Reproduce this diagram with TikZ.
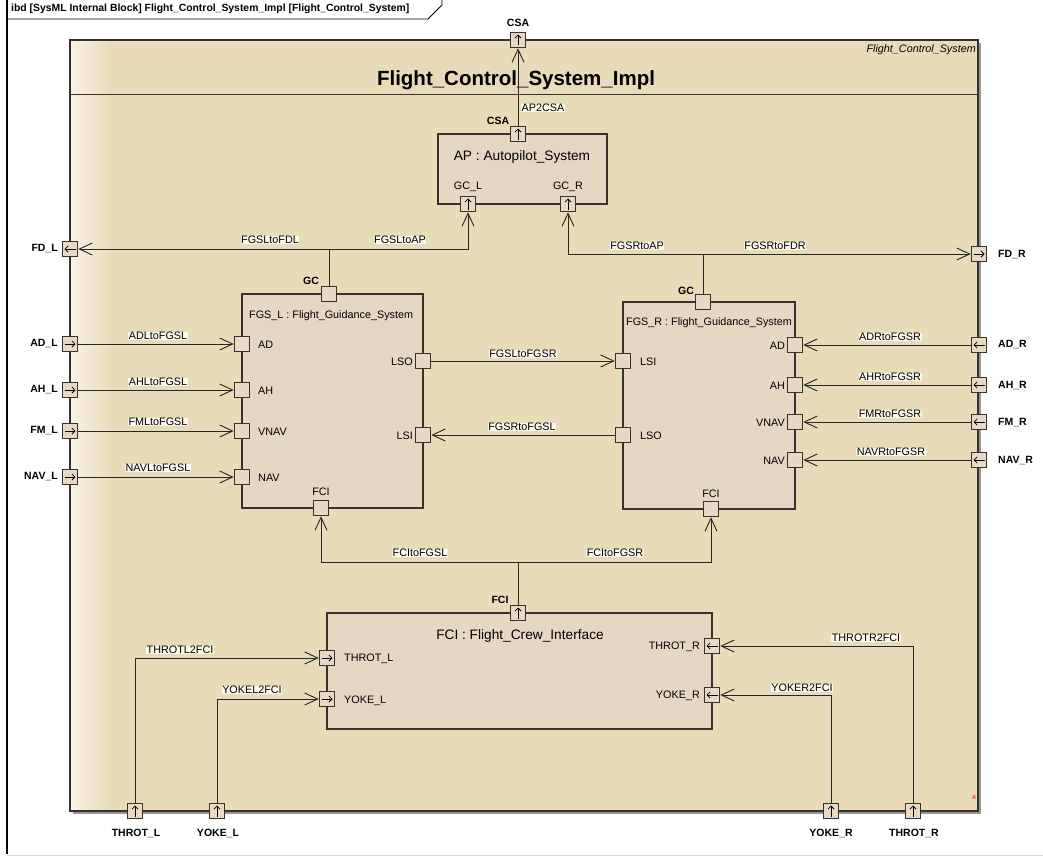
\documentclass[tikz,border=0pt]{standalone}
\usepackage{fontspec}
\setmainfont{Liberation Sans}
\usetikzlibrary{arrows.meta}
\definecolor{blk}{RGB}{233,218,185}
\definecolor{blkL}{RGB}{249,243,230}
\definecolor{inner}{RGB}{229,216,194}
\definecolor{portf}{RGB}{231,217,197}
\definecolor{edge}{RGB}{55,50,45}
\definecolor{lblbg}{RGB}{253,249,238}
\definecolor{shad}{RGB}{150,150,150}
\newcommand\fsm{\fontsize{10.8pt}{12pt}\selectfont}
\newcommand\fpb{\fontsize{10.5pt}{12pt}\selectfont\bfseries}
\newcommand\fblk{\fontsize{13.7pt}{15pt}\selectfont}
\newcommand\fttl{\fontsize{20.5pt}{23pt}\selectfont\bfseries}
\newcommand\fhdr{\fontsize{10.4pt}{12pt}\selectfont\bfseries}
\newcommand\portup[1]{\draw[pa] ([yshift=-5.5pt]#1.center) -- ([yshift=5.5pt]#1.center);}
\newcommand\portrt[1]{\draw[pa] ([xshift=-5.5pt]#1.center) -- ([xshift=5.5pt]#1.center);}
\newcommand\portlt[1]{\draw[pa] ([xshift=5.5pt]#1.center) -- ([xshift=-5.5pt]#1.center);}
\tikzset{
  port/.style={draw=edge, fill=portf, line width=1pt, minimum size=15.5pt, inner sep=0pt},
  blkbox/.style={draw=edge, fill=inner, line width=1.1pt, inner sep=0pt},
  conn/.style={draw=black!85, line width=0.9pt},
  arr/.style={-{Straight Barb[length=13pt,width=12pt]}},
  pa/.style={line width=0.75pt, -{Straight Barb[length=3pt,width=6pt]}},
  clbl/.style={font=\fsm, fill=lblbg, inner sep=0.6pt},
  plbl/.style={font=\fsm, inner sep=0pt},
  pb/.style={font=\fpb, inner sep=0pt},
}
\begin{document}
\begin{tikzpicture}[x=1pt,y=-1pt]
\useasboundingbox (0,0) rectangle (1043,856);
\fill[white] (0,0) rectangle (1043,856);
% diagram frame
\draw[line width=1.3pt] (7,0) -- (7,854);
\draw[black!15, line width=1pt] (7,855) -- (1043,855);
\draw[line width=0.8pt] (7,19) -- (428,19) -- (442,5) -- (442,0);
\node[anchor=west, font=\fhdr, inner sep=0pt] (hdr) at (11,9) {ibd [SysML Internal Block] Flight\_Control\_System\_Impl [Flight\_Control\_System]};
% main block
\fill[shad] (73,43) rectangle (981,814);
\fill[blk] (70,40) rectangle (978,811);
\shade[left color=blkL, right color=blk] (70,40) rectangle (112,811);
\node[draw=edge, line width=1.2pt, minimum width=908pt, minimum height=771pt, inner sep=0pt] (sys) at (524,425.5) {};
\draw[edge, line width=1pt] (sys.west |- 0,95) -- (sys.east |- 0,95);
\node[font=\fttl, inner sep=0pt] (ttl) at (516,80) {Flight\_Control\_System\_Impl};
\node[font=\fsm\itshape, anchor=east, inner sep=0pt] (stereo) at (976,50) {Flight\_Control\_System};
\node[font=\fontsize{6pt}{6pt}\selectfont\bfseries\itshape, text=red!80, inner sep=0pt] (amark) at (974,797) {A};
% inner blocks
\node[blkbox, minimum width=169pt, minimum height=70pt] (ap) at (522.5,169) {};
\node[blkbox, minimum width=181pt, minimum height=214pt] (fgsl) at (332.5,401) {};
\node[blkbox, minimum width=172pt, minimum height=207pt] (fgsr) at (709,405.5) {};
\node[blkbox, minimum width=385pt, minimum height=116pt] (fci) at (519.5,671) {};
\node[font=\fblk, inner sep=0pt] (apt) at (522,157) {AP : Autopilot\_System};
\node[font=\fsm, anchor=west, inner sep=0pt] (fgslt) at (249,316) {FGS\_L : Flight\_Guidance\_System};
\node[font=\fsm, anchor=west, inner sep=0pt] (fgsrt) at (626,323) {FGS\_R : Flight\_Guidance\_System};
\node[font=\fblk, inner sep=0pt] (fcit) at (520,636) {FCI : Flight\_Crew\_Interface};
% ports: outer
\node[port] (csaO) at (518,40) {};
\node[port] (fdl) at (70,249) {};
\node[port] (adl) at (70,344) {};
\node[port] (ahl) at (70,390) {};
\node[port] (fml) at (70,431) {};
\node[port] (navl) at (70,477) {};
\node[port] (fdr) at (979,254) {};
\node[port] (adr) at (979,345) {};
\node[port] (ahr) at (979,385) {};
\node[port] (fmr) at (979,422) {};
\node[port] (navr) at (979,460) {};
\node[port] (throtlo) at (135,811) {};
\node[port] (yokelo) at (217,811) {};
\node[port] (yokero) at (831,811) {};
\node[port] (throtro) at (913,811) {};
% ports: AP
\node[port] (apcsa) at (518,134) {};
\node[port] (gcl) at (468,204) {};
\node[port] (gcr) at (568,204) {};
% ports: FGS_L
\node[port] (lgc) at (329,294) {};
\node[port] (lad) at (242,344) {};
\node[port] (lah) at (242,390) {};
\node[port] (lvnav) at (242,431) {};
\node[port] (lnav) at (242,477) {};
\node[port] (llso) at (423,361) {};
\node[port] (llsi) at (423,435) {};
\node[port] (lfci) at (321,508) {};
% ports: FGS_R
\node[port] (rgc) at (703,302) {};
\node[port] (rlsi) at (623,361) {};
\node[port] (rlso) at (623,435) {};
\node[port] (rad) at (795,345) {};
\node[port] (rah) at (795,385) {};
\node[port] (rvnav) at (795,422) {};
\node[port] (rnav) at (795,460) {};
\node[port] (rfci) at (711,509) {};
% ports: FCI
\node[port] (fcitop) at (518,613) {};
\node[port] (fthl) at (327,658) {};
\node[port] (fyol) at (327,699) {};
\node[port] (fthr) at (712,646) {};
\node[port] (fyor) at (712,695) {};
% arrows inside ports
\portup{csaO}\portup{apcsa}\portup{gcl}\portup{gcr}\portup{fcitop}
\portup{throtlo}\portup{yokelo}\portup{yokero}\portup{throtro}
\portlt{fdl}\portrt{adl}\portrt{ahl}\portrt{fml}\portrt{navl}
\portrt{fdr}\portlt{adr}\portlt{ahr}\portlt{fmr}\portlt{navr}
\portrt{fthl}\portrt{fyol}\portlt{fthr}\portlt{fyor}
% port labels (bold)
\node[pb] (l1) at (518,23) {CSA};
\node[pb] (l2) at (498,121) {CSA};
\node[pb] (l3) at (311,281) {GC};
\node[pb] (l4) at (686,291) {GC};
\node[pb] (l5) at (500,600) {FCI};
\node[pb, anchor=east] (l6) at (58,249) {FD\_L};
\node[pb, anchor=east] (l7) at (58,344) {AD\_L};
\node[pb, anchor=east] (l8) at (58,390) {AH\_L};
\node[pb, anchor=east] (l9) at (58,431) {FM\_L};
\node[pb, anchor=east] (l10) at (58,477) {NAV\_L};
\node[pb, anchor=west] (l11) at (998,255) {FD\_R};
\node[pb, anchor=west] (l12) at (998,345) {AD\_R};
\node[pb, anchor=west] (l13) at (998,386) {AH\_R};
\node[pb, anchor=west] (l14) at (998,423) {FM\_R};
\node[pb, anchor=west] (l15) at (998,461) {NAV\_R};
\node[pb] (l16) at (136,833) {THROT\_L};
\node[pb] (l17) at (218,833) {YOKE\_L};
\node[pb] (l18) at (831,833) {YOKE\_R};
\node[pb] (l19) at (914,833) {THROT\_R};
% port labels (plain)
\node[plbl] (m1) at (468,187) {GC\_L};
\node[plbl] (m2) at (568,187) {GC\_R};
\node[plbl, anchor=west] (m3) at (258,345) {AD};
\node[plbl, anchor=west] (m4) at (258,391) {AH};
\node[plbl, anchor=west] (m5) at (258,432) {VNAV};
\node[plbl, anchor=west] (m6) at (258,478) {NAV};
\node[plbl, anchor=east] (m7) at (413,362) {LSO};
\node[plbl, anchor=east] (m8) at (413,436) {LSI};
\node[plbl] (m9) at (321,492) {FCI};
\node[plbl, anchor=west] (m10) at (640,362) {LSI};
\node[plbl, anchor=west] (m11) at (640,436) {LSO};
\node[plbl, anchor=east] (m12) at (785,346) {AD};
\node[plbl, anchor=east] (m13) at (785,386) {AH};
\node[plbl, anchor=east] (m14) at (785,423) {VNAV};
\node[plbl, anchor=east] (m15) at (785,461) {NAV};
\node[plbl] (m16) at (711,494) {FCI};
\node[plbl, anchor=west] (m17) at (344,659) {THROT\_L};
\node[plbl, anchor=west] (m18) at (344,701) {YOKE\_L};
\node[plbl, anchor=east] (m19) at (700,647) {THROT\_R};
\node[plbl, anchor=east] (m20) at (700,696) {YOKE\_R};
% junctions
\coordinate (jL) at (329,249);
\coordinate (jR) at (703,254);
\coordinate (jF) at (518,562);
% connectors
\draw[conn, arr] (apcsa.north) -- (csaO.south);
\draw[conn] (lgc.north) -- (jL);
\draw[conn, arr] (jL) -- (fdl.east);
\draw[conn, arr] (jL) -| (gcl.south);
\draw[conn] (rgc.north) -- (jR);
\draw[conn, arr] (jR) -- (fdr.west);
\draw[conn, arr] (jR) -| (gcr.south);
\draw[conn, arr] (adl.east) -- (lad.west);
\draw[conn, arr] (ahl.east) -- (lah.west);
\draw[conn, arr] (fml.east) -- (lvnav.west);
\draw[conn, arr] (navl.east) -- (lnav.west);
\draw[conn, arr] (adr.west) -- (rad.east);
\draw[conn, arr] (ahr.west) -- (rah.east);
\draw[conn, arr] (fmr.west) -- (rvnav.east);
\draw[conn, arr] (navr.west) -- (rnav.east);
\draw[conn, arr] (llso.east) -- (rlsi.west);
\draw[conn, arr] (rlso.west) -- (llsi.east);
\draw[conn] (fcitop.north) -- (jF);
\draw[conn, arr] (jF) -| (lfci.south);
\draw[conn, arr] (jF) -| (rfci.south);
\draw[conn, arr] (throtlo.north) |- (fthl.west);
\draw[conn, arr] (yokelo.north) |- (fyol.west);
\draw[conn, arr] (throtro.north) |- (fthr.east);
\draw[conn, arr] (yokero.north) |- (fyor.east);
% connector labels
\node[clbl] (c1) at (543,108) {AP2CSA};
\node[clbl] (c2) at (270,240) {FGSLtoFDL};
\node[clbl] (c3) at (400,240) {FGSLtoAP};
\node[clbl] (c4) at (637,246) {FGSRtoAP};
\node[clbl] (c5) at (775,246) {FGSRtoFDR};
\node[clbl] (c6) at (158,336) {ADLtoFGSL};
\node[clbl] (c7) at (158,382) {AHLtoFGSL};
\node[clbl] (c8) at (158,422) {FMLtoFGSL};
\node[clbl] (c9) at (158,468) {NAVLtoFGSL};
\node[clbl] (c10) at (890,337) {ADRtoFGSR};
\node[clbl] (c11) at (890,377) {AHRtoFGSR};
\node[clbl] (c12) at (890,414) {FMRtoFGSR};
\node[clbl] (c13) at (891,452) {NAVRtoFGSR};
\node[clbl] (c14) at (523,354) {FGSLtoFGSR};
\node[clbl] (c15) at (522,427) {FGSRtoFGSL};
\node[clbl] (c16) at (420,553) {FCItoFGSL};
\node[clbl] (c17) at (615,553) {FCItoFGSR};
\node[clbl] (c18) at (180,650) {THROTL2FCI};
\node[clbl] (c19) at (252,690) {YOKEL2FCI};
\node[clbl] (c20) at (802,688) {YOKER2FCI};
\node[clbl] (c21) at (866,638) {THROTR2FCI};
\end{tikzpicture}
\end{document}
